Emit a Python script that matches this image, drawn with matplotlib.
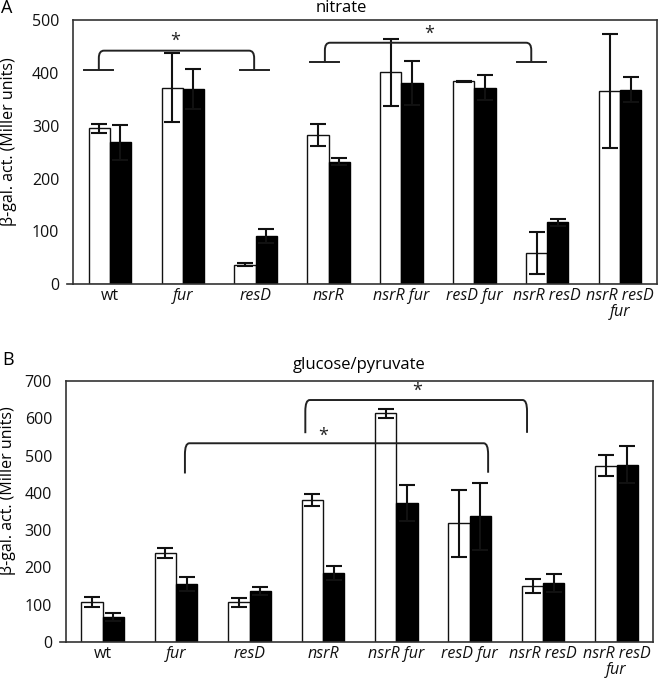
import matplotlib
matplotlib.use("Agg")
import matplotlib.pyplot as plt
import numpy as np
from matplotlib.path import Path
from matplotlib.patches import PathPatch

plt.rcParams['font.family'] = ['Open Sans', 'DejaVu Sans']

categories = ['wt', 'fur', 'resD', 'nsrR', 'nsrR fur', 'resD fur', 'nsrR resD', 'nsrR resD\nfur']

A_white = [295, 372, 37, 283, 401, 384, 59, 366]
A_white_err = [9, 65, 3, 21, 64, 1, 39, 108]
A_black = [269, 370, 91, 232, 381, 372, 117, 368]
A_black_err = [33, 38, 13, 7, 41, 24, 7, 24]

B_white = [108, 238, 106, 381, 613, 318, 150, 473]
B_white_err = [13, 13, 11, 16, 11, 89, 19, 28]
B_black = [67, 155, 136, 185, 373, 337, 158, 476]
B_black_err = [11, 18, 11, 20, 49, 90, 24, 49]

A_title = 'nitrate'
B_title = 'glucose/pyruvate'
ylabel = 'β-gal. act. (Miller units)'

# brackets: (x_left, x_right, y_top, y_left_end, y_right_end, star_x, star_y)
A_brackets = [(-0.15, 1.98, 442, 405, 405, 0.89, 460),
              (2.95, 5.78, 457, 420, 421, 4.38, 474)]
B_brackets = [(2.76, 5.78, 649, 560, 561, 4.28, 673),
              (1.12, 5.25, 533, 452, 454, 3.0, 553)]

fig = plt.figure(figsize=(6.66, 6.83), dpi=100)
W, H = 666, 683
axA = fig.add_axes([73.3 / W, 1 - 284.3 / H, (656.7 - 73.3) / W, (284.3 - 20) / H])
axB = fig.add_axes([66 / W, 1 - 642 / H, (653.3 - 66) / W, (642 - 381) / H])

bw = 0.29
x = np.arange(len(categories))


def bracket(ax, xl, xr, yt, yl, yr, rx, ry, feet=None):
    verts = [(xl, yl), (xl, yt - ry), (xl, yt), (xl + rx, yt),
             (xr - rx, yt), (xr, yt), (xr, yt - ry), (xr, yr)]
    codes = [Path.MOVETO, Path.LINETO, Path.CURVE3, Path.CURVE3,
             Path.LINETO, Path.CURVE3, Path.CURVE3, Path.LINETO]
    ax.add_patch(PathPatch(Path(verts, codes), fill=False, lw=1.4,
                           edgecolor='#222222', clip_on=False, zorder=5))
    if feet is not None:
        ax.plot([xl - feet, xl + feet], [yl, yl], color='#222222', lw=1.4, clip_on=False, zorder=5)
        ax.plot([xr - feet, xr + feet], [yr, yr], color='#222222', lw=1.4, clip_on=False, zorder=5)


def panel(ax, white, werr, black, berr, ymax, brackets, rx, ry, feet):
    ax.bar(x - bw / 2, white, bw, color='white', edgecolor='#111111', lw=1.0, zorder=2)
    ax.bar(x + bw / 2, black, bw, color='black', edgecolor='black', lw=1.0, zorder=2)
    ax.errorbar(x - bw / 2, white, yerr=werr, fmt='none', ecolor='#111111',
                elinewidth=1.5, capsize=6, capthick=1.5, zorder=3)
    ax.errorbar(x + bw / 2, black, yerr=berr, fmt='none', ecolor='#111111',
                elinewidth=1.5, capsize=6, capthick=1.5, zorder=3)
    ax.set_xlim(-0.5, len(categories) - 0.5)
    ax.set_ylim(0, ymax)
    ax.set_yticks(np.arange(0, ymax + 1, 100))
    ax.set_xticks(x)
    ax.set_xticklabels(categories, linespacing=1.0)
    for lbl in ax.get_xticklabels():
        if lbl.get_text() != 'wt':
            lbl.set_style('italic')
    ax.tick_params(axis='both', length=0, labelsize=11.5, colors='#111111')
    ax.tick_params(axis='y', pad=10)
    ax.tick_params(axis='x', pad=3)
    for s in ax.spines.values():
        s.set_linewidth(1.2)
        s.set_color('#333333')
    ax.plot([-6 / 583, 0], [0, 0], transform=ax.transAxes, color='#333333',
            lw=1.2, clip_on=False)
    for (xl, xr, yt, yl, yr, sx, sy) in brackets:
        bracket(ax, xl, xr, yt, yl, yr, rx, ry, feet)
        ax.text(sx, sy, '*', ha='center', va='center', fontsize=13, color='#222222')


panel(axA, A_white, A_white_err, A_black, A_black_err, 500, A_brackets, 0.07, 14, 0.2)
panel(axB, B_white, B_white_err, B_black, B_black_err, 700, B_brackets, 0.06, 30, None)

fig.text(341 / W, 1 - 8.5 / H, A_title, ha='center', va='center', fontsize=12)
fig.text(359 / W, 1 - 365 / H, B_title, ha='center', va='center', fontsize=12)
fig.text(1 / W, 1 - 8 / H, 'A', ha='left', va='center', fontsize=13)
fig.text(2 / W, 1 - 360 / H, 'B', ha='left', va='center', fontsize=13)
fig.text(9 / W, 1 - 142 / H, ylabel, rotation=90, ha='center', va='center', fontsize=11.5)
fig.text(8 / W, 1 - 491 / H, ylabel, rotation=90, ha='center', va='center', fontsize=11.5)

fig.savefig('out.png', dpi=100)
